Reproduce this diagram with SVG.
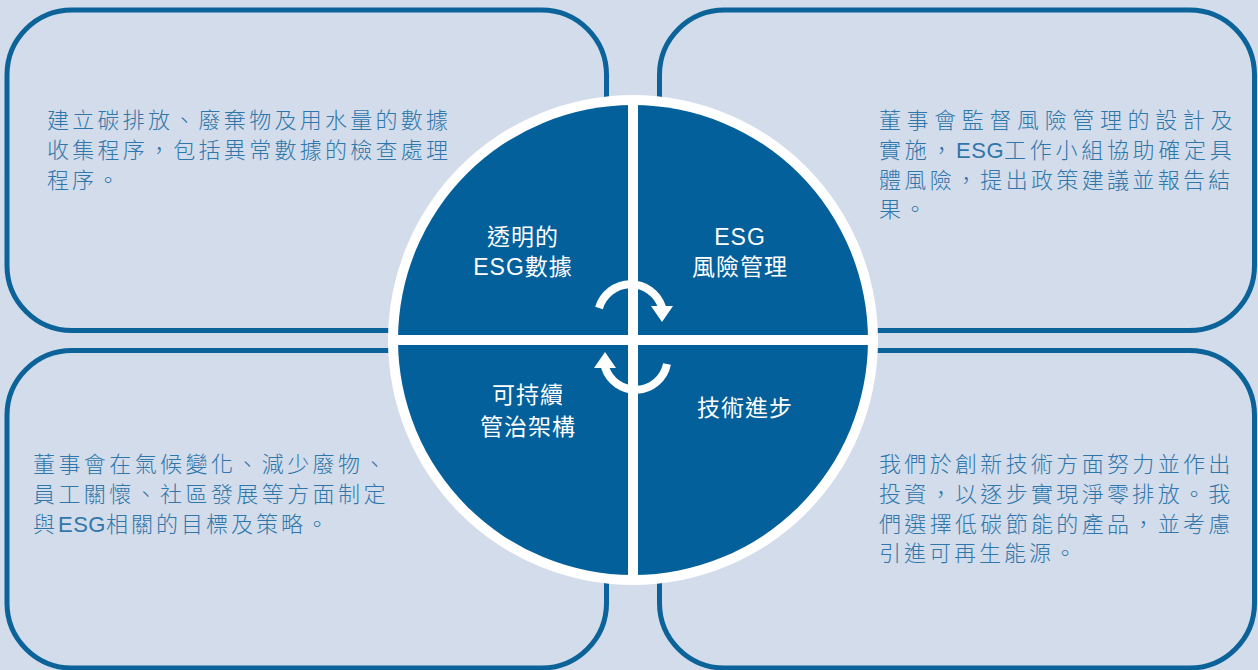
<svg xmlns="http://www.w3.org/2000/svg" width="1258" height="670" viewBox="0 0 1258 670">
<style>
.box{fill:#d3dcea;stroke:#0b6399;stroke-width:5}
.bt{font-family:"Liberation Sans","Noto Sans CJK TC",sans-serif;font-size:22px;fill:#2f77ab;font-weight:300;letter-spacing:3px}
.lat{letter-spacing:0.5px}
.ct{font-family:"Liberation Sans","Noto Sans CJK TC",sans-serif;font-size:23px;fill:#ffffff;text-anchor:middle;letter-spacing:1px}
.arc{fill:none;stroke:#ffffff;stroke-width:8}
</style>
<rect width="1258" height="670" fill="#d3dcea"/>
<g id="box-tl">
<rect class="box" x="7" y="10" width="599.5" height="320.5" rx="65"/>
<text class="bt" x="47" y="128" textLength="404" lengthAdjust="spacing">建立碳排放、廢棄物及用水量的數據</text>
<text class="bt" x="47" y="158" textLength="404" lengthAdjust="spacing">收集程序，包括異常數據的檢查處理</text>
<text class="bt" x="47" y="188">程序。</text>
</g>
<g id="box-tr">
<rect class="box" x="659.5" y="10" width="595" height="320.5" rx="65"/>
<text class="bt" x="879" y="128" textLength="356.4" lengthAdjust="spacing">董事會監督風險管理的設計及</text>
<text class="bt" x="879" y="158" style="letter-spacing:3.7px">實施，<tspan class="lat">ESG</tspan>工作小組協助確定具</text>
<text class="bt" x="879" y="188" textLength="354.3" lengthAdjust="spacing">體風險，提出政策建議並報告結</text>
<text class="bt" x="879" y="217">果。</text>
</g>
<g id="box-bl">
<rect class="box" x="7" y="350.5" width="599.5" height="317.5" rx="65"/>
<text class="bt" x="33" y="472" textLength="355.4" lengthAdjust="spacing">董事會在氣候變化、減少廢物、</text>
<text class="bt" x="33" y="502" textLength="355.4" lengthAdjust="spacing">員工關懷、社區發展等方面制定</text>
<text class="bt" x="33" y="532">與<tspan class="lat">ESG</tspan>相關的目標及策略。</text>
</g>
<g id="box-br">
<rect class="box" x="659.5" y="350.5" width="595" height="317.5" rx="65"/>
<text class="bt" x="879" y="472" textLength="354.3" lengthAdjust="spacing">我們於創新技術方面努力並作出</text>
<text class="bt" x="879" y="502" textLength="354.3" lengthAdjust="spacing">投資，以逐步實現淨零排放。我</text>
<text class="bt" x="879" y="532" textLength="354.3" lengthAdjust="spacing">們選擇低碳節能的產品，並考慮</text>
<text class="bt" x="879" y="561">引進可再生能源。</text>
</g>
<g id="circle">
<circle cx="633" cy="340" r="245" fill="#ffffff"/>
<circle cx="633" cy="340" r="235" fill="#04609a"/>
<rect x="628" y="100" width="10" height="480" fill="#ffffff"/>
<rect x="393" y="335" width="480" height="10" fill="#ffffff"/>
</g>
<g id="q-tl"><text class="ct" x="523" y="245">透明的</text><text class="ct" x="523" y="275">ESG數據</text></g>
<g id="q-tr"><text class="ct" x="740" y="245">ESG</text><text class="ct" x="740" y="275">風險管理</text></g>
<g id="q-bl"><text class="ct" x="528" y="403">可持續</text><text class="ct" x="528" y="435">管治架構</text></g>
<g id="q-br"><text class="ct" x="745" y="416">技術進步</text></g>
<g id="connectors">
<path class="arc" d="M 599,308 A 33 33 0 0 1 662,307"/>
<polygon points="651,306 673,306 662,322" fill="#ffffff"/>
<path class="arc" d="M 667,364 A 32 32 0 0 1 605,367"/>
<polygon points="594,368 616,368 605,352" fill="#ffffff"/>
</g>
</svg>
